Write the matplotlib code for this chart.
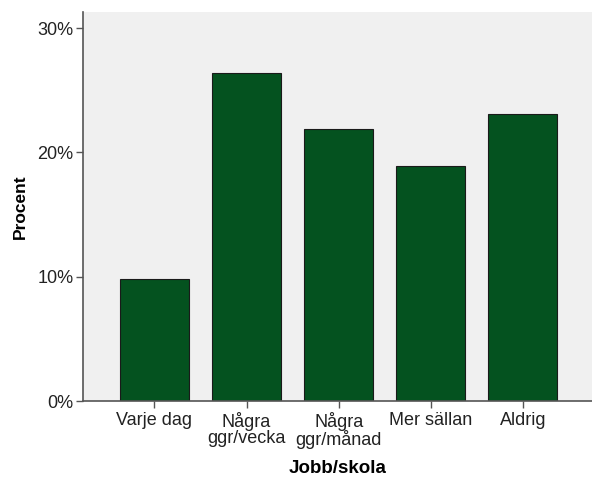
import numpy as np
import matplotlib.pyplot as plt
from matplotlib.ticker import FuncFormatter

plt.rcParams['font.family'] = ['Liberation Sans', 'DejaVu Sans']

kategorier = ['Varje dag', 'Några\nggr/vecka', 'Några\nggr/månad', 'Mer sällan', 'Aldrig']
procent = [9.8, 26.4, 21.9, 18.9, 23.1]
y_ticks = [0, 10, 20, 30]

fig = plt.figure(figsize=(5.92, 4.79), dpi=100)
ax = fig.add_axes([0.1402, 0.1628, 0.8598, 0.8122])
ax.set_facecolor('#F0F0F0')

x = np.arange(len(kategorier))
ax.bar(x, procent, width=0.75, color='#04521F', edgecolor='#1a1a1a', linewidth=0.8, zorder=2)

ax.set_xlim(-0.776, 4.75)
ax.set_ylim(0, 31.3)
ax.set_xticks(x)
ax.set_xticklabels(kategorier, fontsize=13, color='#222222', linespacing=0.9)
ax.set_yticks(y_ticks)
ax.yaxis.set_major_formatter(FuncFormatter(lambda v, p: f'{v:.0f}%'))
ax.tick_params(axis='y', labelsize=13, colors='#222222', length=5, width=1, direction='out', pad=2)
ax.tick_params(axis='x', length=5, width=1, direction='out', color='#555555', pad=3)
ax.tick_params(axis='y', color='#555555')

for side in ['top', 'right']:
    ax.spines[side].set_visible(False)
for side in ['left', 'bottom']:
    ax.spines[side].set_color('#555555')
    ax.spines[side].set_linewidth(1.2)

ax.set_xlabel('Jobb/skola', fontsize=13.5, fontweight='bold', labelpad=8)
ax.set_ylabel('Procent', fontsize=12.5, fontweight='bold', labelpad=7)

fig.savefig('out.png', dpi=100)
